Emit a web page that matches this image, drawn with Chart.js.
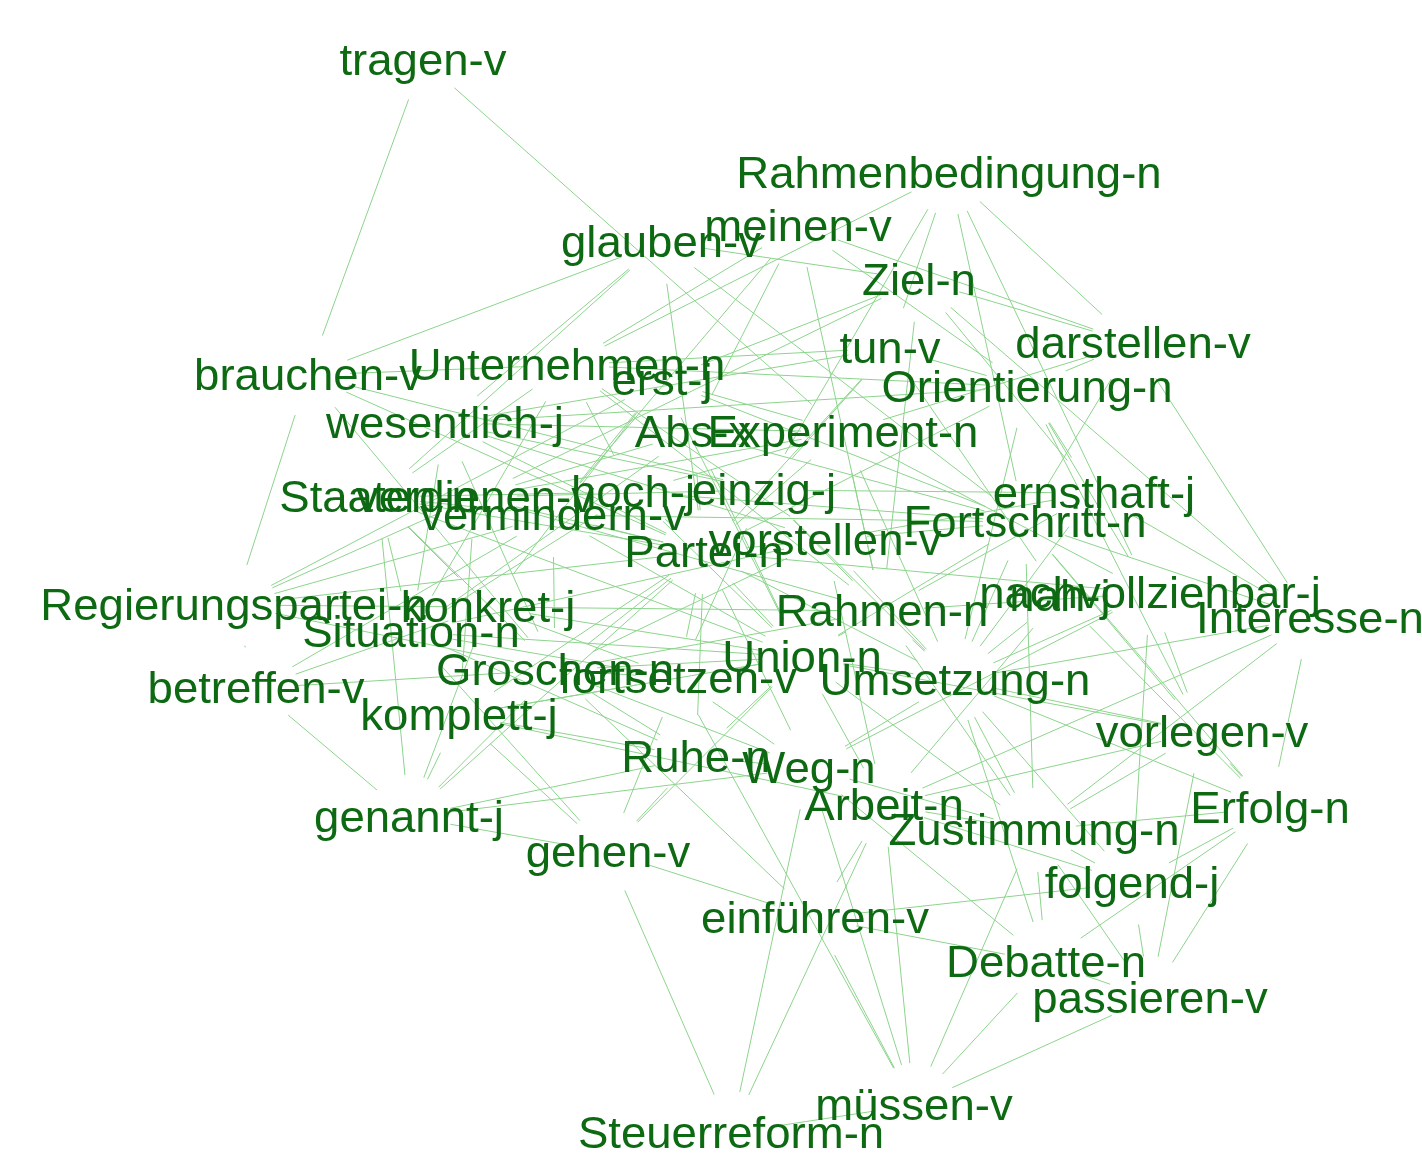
<!DOCTYPE html>
<html>
<head>
<meta charset="utf-8">
<script src="https://cdn.jsdelivr.net/npm/chart.js@4/dist/chart.umd.min.js"></script>
<style>
  html, body { margin: 0; padding: 0; background: #fff; }
  #wrap { width: 1422px; height: 1166px; }
</style>
</head>
<body>
<div id="wrap"><canvas id="netz" width="1422" height="1166"></canvas></div>
<script>
// Knoten: Beschriftung und Lage (Layout-Koordinaten)
const nodeLabels = [
  "tragen-v", "Rahmenbedingung-n", "glauben-v", "meinen-v", "Ziel-n",
  "tun-v", "darstellen-v", "brauchen-v", "Unternehmen-n", "erst-j",
  "Orientierung-n", "wesentlich-j", "Abs-x", "Experiment-n", "Staaten-n",
  "verdienen-v", "hoch-j", "vermindern-v", "einzig-j", "Partei-n",
  "vorstellen-v", "Fortschritt-n", "ernsthaft-j", "Regierungspartei-n", "konkret-j",
  "Situation-n", "Rahmen-n", "nah-j", "nachvollziehbar-j", "Interesse-n",
  "Groschen-n", "fortsetzen-v", "Union-n", "Umsetzung-n", "betreffen-v",
  "komplett-j", "vorlegen-v", "Ruhe-n", "Weg-n", "Arbeit-n",
  "Zustimmung-n", "Erfolg-n", "genannt-j", "gehen-v", "folgend-j",
  "einführen-v", "Debatte-n", "passieren-v", "müssen-v", "Steuerreform-n"
];
const nodeX = [
  423, 949, 661, 798, 919,
  890, 1133, 308, 567, 662,
  1027, 445, 693, 843, 378,
  475, 633, 553, 764, 704,
  825, 1025, 1094, 234, 488,
  411, 882, 1060, 1150, 1310,
  555, 678, 802, 955, 256,
  459, 1202, 696, 809, 884,
  1034, 1270, 409, 608, 1132,
  815, 1046, 1150, 914, 731
];
const nodeY = [
  60, 173, 242, 226, 280,
  348, 343, 375, 365, 380,
  387, 423, 432, 432, 497,
  497, 492, 515, 490, 552,
  540, 522, 493, 605, 607,
  632, 611, 596, 593, 618,
  670, 678, 657, 680, 688,
  715, 732, 757, 768, 805,
  830, 808, 817, 852, 883,
  918, 962, 998, 1105, 1133
];

// Kanten (Paare von Knoten)
const edgeFrom = [
  "tragen-v", "tragen-v", "glauben-v", "glauben-v", "glauben-v", "glauben-v", "glauben-v", "glauben-v",
  "meinen-v", "meinen-v", "meinen-v", "meinen-v", "meinen-v", "meinen-v",
  "Rahmenbedingung-n", "Rahmenbedingung-n", "Rahmenbedingung-n", "Rahmenbedingung-n", "Rahmenbedingung-n", "Rahmenbedingung-n",
  "Ziel-n", "Ziel-n", "Ziel-n", "Ziel-n", "Ziel-n", "Ziel-n",
  "tun-v", "tun-v", "tun-v", "tun-v", "tun-v",
  "darstellen-v", "darstellen-v", "darstellen-v", "darstellen-v",
  "brauchen-v", "brauchen-v", "brauchen-v", "brauchen-v", "brauchen-v",
  "Unternehmen-n", "Unternehmen-n", "Unternehmen-n", "Unternehmen-n",
  "erst-j", "erst-j", "erst-j", "erst-j", "erst-j",
  "Orientierung-n", "Orientierung-n", "Orientierung-n", "Orientierung-n", "Orientierung-n",
  "wesentlich-j", "wesentlich-j", "wesentlich-j", "wesentlich-j", "wesentlich-j",
  "Abs-x", "Abs-x", "Abs-x", "Abs-x",
  "Experiment-n", "Experiment-n", "Experiment-n", "Experiment-n",
  "Staaten-n", "Staaten-n", "Staaten-n", "Staaten-n", "Staaten-n",
  "verdienen-v", "verdienen-v", "verdienen-v", "verdienen-v",
  "hoch-j", "hoch-j", "hoch-j", "hoch-j", "hoch-j",
  "vermindern-v", "vermindern-v", "vermindern-v", "vermindern-v", "vermindern-v",
  "einzig-j", "einzig-j", "einzig-j", "einzig-j",
  "Partei-n", "Partei-n", "Partei-n", "Partei-n", "Partei-n", "Partei-n", "Partei-n", "Partei-n", "Partei-n", "Partei-n", "Partei-n",
  "vorstellen-v", "vorstellen-v", "vorstellen-v", "vorstellen-v", "vorstellen-v",
  "Fortschritt-n", "Fortschritt-n", "Fortschritt-n", "Fortschritt-n", "Fortschritt-n", "Fortschritt-n",
  "ernsthaft-j", "ernsthaft-j", "ernsthaft-j",
  "Regierungspartei-n", "Regierungspartei-n", "Regierungspartei-n",
  "konkret-j", "konkret-j", "konkret-j",
  "Situation-n", "Situation-n", "Situation-n",
  "Rahmen-n", "Rahmen-n", "Rahmen-n", "Rahmen-n",
  "nah-j", "nah-j", "nah-j",
  "nachvollziehbar-j", "nachvollziehbar-j", "nachvollziehbar-j", "nachvollziehbar-j",
  "Interesse-n", "Interesse-n", "Interesse-n", "Interesse-n",
  "Groschen-n", "Groschen-n", "Groschen-n", "Groschen-n", "Groschen-n",
  "fortsetzen-v", "fortsetzen-v", "fortsetzen-v", "fortsetzen-v", "fortsetzen-v",
  "Union-n", "Union-n", "Union-n", "Union-n", "Union-n",
  "Umsetzung-n", "Umsetzung-n", "Umsetzung-n", "Umsetzung-n", "Umsetzung-n",
  "betreffen-v", "betreffen-v",
  "komplett-j", "komplett-j", "komplett-j", "komplett-j",
  "vorlegen-v", "vorlegen-v", "vorlegen-v", "vorlegen-v",
  "Ruhe-n", "Ruhe-n", "Ruhe-n",
  "Weg-n", "Weg-n", "Weg-n", "Weg-n", "Weg-n", "Weg-n",
  "Arbeit-n", "Arbeit-n", "Arbeit-n", "Arbeit-n", "Arbeit-n",
  "Zustimmung-n", "Zustimmung-n", "Zustimmung-n", "Zustimmung-n", "Zustimmung-n",
  "Erfolg-n", "Erfolg-n", "Erfolg-n",
  "genannt-j", "gehen-v", "gehen-v", "gehen-v",
  "folgend-j", "folgend-j",
  "einführen-v", "einführen-v", "einführen-v",
  "Debatte-n", "Debatte-n", "passieren-v", "müssen-v",
  "Unternehmen-n", "Unternehmen-n", "erst-j", "Staaten-n", "Staaten-n",
  "wesentlich-j", "verdienen-v", "hoch-j", "vermindern-v", "Abs-x",
  "einzig-j", "vorstellen-v", "Experiment-n", "tun-v", "Situation-n",
  "konkret-j", "Rahmen-n", "Umsetzung-n", "Union-n", "Groschen-n",
  "Fortschritt-n", "Orientierung-n"
];
const edgeTo = [
  "brauchen-v", "Experiment-n", "brauchen-v", "Ziel-n", "Partei-n", "wesentlich-j", "Fortschritt-n", "Staaten-n",
  "Unternehmen-n", "vermindern-v", "Orientierung-n", "Rahmen-n", "darstellen-v", "Abs-x",
  "Unternehmen-n", "tun-v", "Fortschritt-n", "darstellen-v", "nachvollziehbar-j", "einzig-j",
  "erst-j", "darstellen-v", "ernsthaft-j", "Rahmen-n", "verdienen-v", "Interesse-n",
  "Unternehmen-n", "Orientierung-n", "Partei-n", "nah-j", "wesentlich-j",
  "Interesse-n", "Fortschritt-n", "Experiment-n", "Orientierung-n",
  "Regierungspartei-n", "Partei-n", "Groschen-n", "einzig-j", "Unternehmen-n",
  "Orientierung-n", "Staaten-n", "Situation-n", "Rahmen-n",
  "vermindern-v", "Fortschritt-n", "konkret-j", "Regierungspartei-n", "Experiment-n",
  "Partei-n", "ernsthaft-j", "Umsetzung-n", "wesentlich-j", "vorlegen-v",
  "Partei-n", "Situation-n", "Experiment-n", "einzig-j", "Groschen-n",
  "Partei-n", "verdienen-v", "Fortschritt-n", "Union-n",
  "Partei-n", "nachvollziehbar-j", "verdienen-v", "Umsetzung-n",
  "Situation-n", "konkret-j", "Partei-n", "Groschen-n", "genannt-j",
  "Partei-n", "einzig-j", "Regierungspartei-n", "komplett-j",
  "Partei-n", "Fortschritt-n", "Staaten-n", "Situation-n", "Union-n",
  "Partei-n", "Regierungspartei-n", "Fortschritt-n", "Groschen-n", "betreffen-v",
  "Partei-n", "ernsthaft-j", "Rahmen-n", "fortsetzen-v",
  "vorstellen-v", "Regierungspartei-n", "Groschen-n", "fortsetzen-v", "Union-n", "Ruhe-n", "Umsetzung-n", "nachvollziehbar-j", "komplett-j", "genannt-j", "Weg-n",
  "Fortschritt-n", "Situation-n", "Umsetzung-n", "Arbeit-n", "ernsthaft-j",
  "Interesse-n", "nah-j", "Union-n", "Erfolg-n", "vorlegen-v", "Zustimmung-n",
  "Interesse-n", "Umsetzung-n", "Rahmen-n",
  "betreffen-v", "konkret-j", "Groschen-n",
  "Union-n", "fortsetzen-v", "genannt-j",
  "fortsetzen-v", "Ruhe-n", "gehen-v",
  "Union-n", "Umsetzung-n", "Groschen-n", "Zustimmung-n",
  "Umsetzung-n", "Erfolg-n", "Arbeit-n",
  "vorlegen-v", "Umsetzung-n", "folgend-j", "Weg-n",
  "Umsetzung-n", "Erfolg-n", "Zustimmung-n", "Arbeit-n",
  "betreffen-v", "fortsetzen-v", "genannt-j", "Ruhe-n", "Union-n",
  "Union-n", "komplett-j", "Weg-n", "müssen-v", "gehen-v",
  "Umsetzung-n", "vorlegen-v", "Arbeit-n", "Zustimmung-n", "komplett-j",
  "vorlegen-v", "Erfolg-n", "Zustimmung-n", "folgend-j", "Debatte-n",
  "genannt-j", "konkret-j",
  "Ruhe-n", "genannt-j", "gehen-v", "Arbeit-n",
  "Erfolg-n", "Arbeit-n", "passieren-v", "Zustimmung-n",
  "Weg-n", "gehen-v", "genannt-j",
  "Arbeit-n", "genannt-j", "Zustimmung-n", "müssen-v", "Steuerreform-n", "Debatte-n",
  "Zustimmung-n", "einführen-v", "müssen-v", "Steuerreform-n", "folgend-j",
  "folgend-j", "Debatte-n", "passieren-v", "Erfolg-n", "müssen-v",
  "passieren-v", "Debatte-n", "folgend-j",
  "gehen-v", "einführen-v", "Steuerreform-n", "Union-n",
  "einführen-v", "passieren-v",
  "Debatte-n", "müssen-v", "Groschen-n",
  "müssen-v", "passieren-v", "müssen-v", "Steuerreform-n",
  "vorstellen-v", "hoch-j", "Union-n", "vermindern-v", "Union-n",
  "vorstellen-v", "Rahmen-n", "Experiment-n", "Union-n", "Situation-n",
  "Umsetzung-n", "Groschen-n", "Rahmen-n", "einzig-j", "Union-n",
  "Rahmen-n", "nachvollziehbar-j", "Weg-n", "Ruhe-n", "Weg-n",
  "Umsetzung-n", "nachvollziehbar-j"
];

const textColor = "#0d6a12";
const edgeColor = "rgb(140, 212, 140)";
const clipRadius = 42;
const textStretch = 1.035;
const textShift = 3;

const points = nodeLabels.map((lbl, i) => ({ x: nodeX[i], y: nodeY[i], label: lbl }));

// Kanten unter die Beschriftungen zeichnen, an beiden Enden gekürzt
const edgePlugin = {
  id: "edges",
  beforeDatasetsDraw(chart) {
    const { ctx, scales } = chart;
    ctx.save();
    ctx.strokeStyle = edgeColor;
    ctx.lineWidth = 1;
    for (let k = 0; k < edgeFrom.length; k++) {
      const a = nodeLabels.indexOf(edgeFrom[k]);
      const b = nodeLabels.indexOf(edgeTo[k]);
      if (a < 0 || b < 0) continue;
      const x1 = scales.x.getPixelForValue(nodeX[a]);
      const y1 = scales.y.getPixelForValue(nodeY[a]);
      const x2 = scales.x.getPixelForValue(nodeX[b]);
      const y2 = scales.y.getPixelForValue(nodeY[b]);
      const len = Math.hypot(x2 - x1, y2 - y1);
      if (len <= 2 * clipRadius) continue;
      const ux = (x2 - x1) / len, uy = (y2 - y1) / len;
      ctx.beginPath();
      ctx.moveTo(x1 + ux * clipRadius, y1 + uy * clipRadius);
      ctx.lineTo(x2 - ux * clipRadius, y2 - uy * clipRadius);
      ctx.stroke();
    }
    ctx.restore();
  }
};

// Beschriftungen der Knoten
const labelPlugin = {
  id: "nodeLabels",
  afterDatasetsDraw(chart) {
    const { ctx } = chart;
    const meta = chart.getDatasetMeta(0);
    ctx.save();
    ctx.fillStyle = textColor;
    ctx.font = '44px "Liberation Sans", Arial, sans-serif';
    ctx.textAlign = "center";
    ctx.textBaseline = "middle";
    meta.data.forEach((el, i) => {
      ctx.save();
      ctx.translate(el.x, el.y + textShift);
      ctx.scale(textStretch, 1);
      ctx.fillText(nodeLabels[i], 0, 0);
      ctx.restore();
    });
    ctx.restore();
  }
};

new Chart(document.getElementById("netz"), {
  type: "scatter",
  data: {
    datasets: [{
      data: points,
      pointRadius: 0,
      pointHoverRadius: 0,
      showLine: false
    }]
  },
  options: {
    responsive: false,
    animation: false,
    events: [],
    layout: { padding: 0 },
    plugins: { legend: { display: false }, tooltip: { enabled: false } },
    scales: {
      x: { type: "linear", min: 0, max: 1422, display: false },
      y: { type: "linear", min: 0, max: 1166, reverse: true, display: false }
    }
  },
  plugins: [edgePlugin, labelPlugin]
});
</script>
</body>
</html>
